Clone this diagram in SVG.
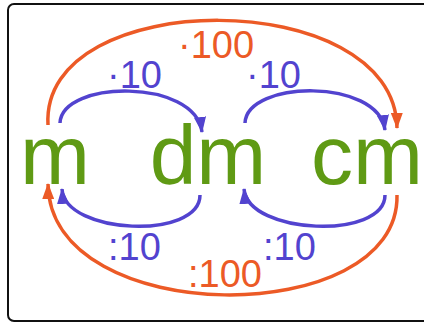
<svg xmlns="http://www.w3.org/2000/svg" width="424" height="323" viewBox="0 0 424 323">
<style>
.unit{font-family:"Liberation Sans",Arial,sans-serif;font-size:84px;fill:#5f9a14;text-anchor:middle}
.lbl{font-family:"Liberation Sans",Arial,sans-serif;font-size:38px}
.b{fill:#5243cf}
.o{fill:#ec5a26}
.cb{fill:none;stroke:#5243cf;stroke-width:3.5;marker-end:url(#ab)}
.co{fill:none;stroke:#ec5a26;stroke-width:3.5;marker-end:url(#ao)}
</style>
<defs>
<marker id="ab" markerUnits="userSpaceOnUse" markerWidth="16" markerHeight="12" refX="15" refY="6" orient="auto" viewBox="0 0 16 12"><path d="M0,0 L16,6 L0,12 z" fill="#5243cf"/></marker>
<marker id="ao" markerUnits="userSpaceOnUse" markerWidth="16" markerHeight="12" refX="15" refY="6" orient="auto" viewBox="0 0 16 12"><path d="M0,0 L16,6 L0,12 z" fill="#ec5a26"/></marker>
</defs>
<rect x="8" y="4" width="440" height="317" rx="6" fill="#fff" stroke="#111" stroke-width="2"/>
<g id="connectors">
<path class="co" d="M48,125 C40,-15 395,-15 397,128"/>
<path class="cb" d="M60,123 C62,80 195,78 202,132"/>
<path class="cb" d="M245,123 C247,80 378,78 385,130"/>
<path class="cb" d="M200,195 C200,240 65,235 62,189"/>
<path class="cb" d="M385,195 C385,240 248,235 244,189"/>
<path class="co" d="M397,195 C400,330 50,330 48,184"/>
<text class="lbl o" x="178" y="58">·100</text>
<text class="lbl b" x="107" y="88">·10</text>
<text class="lbl b" x="246" y="88">·10</text>
<text class="lbl b" x="108" y="260">:10</text>
<text class="lbl b" x="263" y="260">:10</text>
<text class="lbl o" x="188" y="287">:100</text>
</g>
<g id="m"><text class="unit" x="55" y="184">m</text></g>
<g id="dm"><text class="unit" x="208" y="184">dm</text></g>
<g id="cm"><text class="unit" x="367" y="184" font-size="82">cm</text></g>
</svg>
